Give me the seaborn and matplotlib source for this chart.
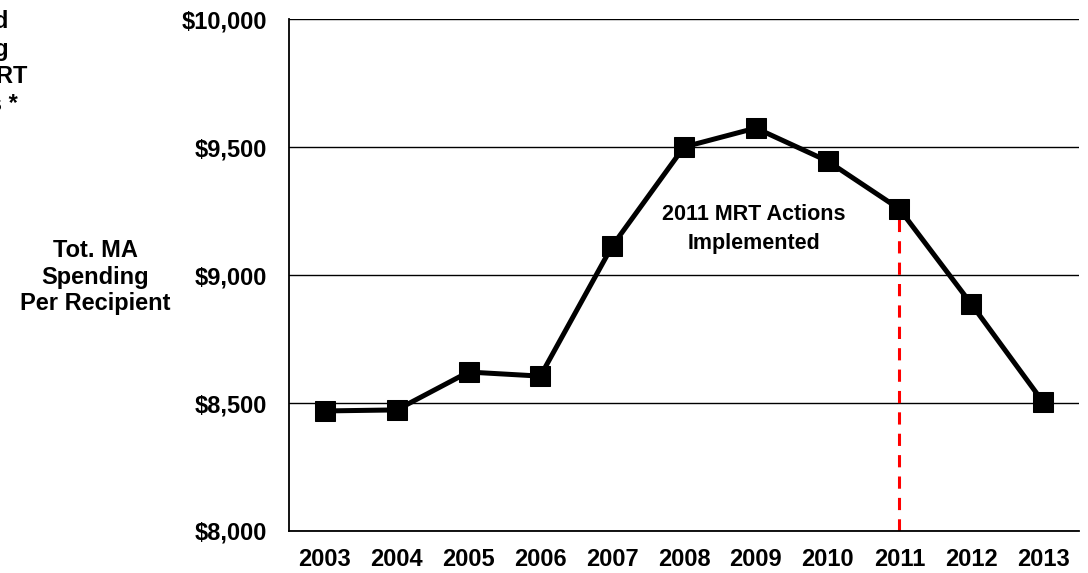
import pandas as pd
import matplotlib
matplotlib.use("Agg")
import matplotlib.pyplot as plt
import seaborn as sns

# values
years = ["2003", "2004", "2005", "2006", "2007", "2008",
         "2009", "2010", "2011", "2012", "2013"]
spending = [8469, 8473, 8621, 8605, 9113, 9500, 9574, 9445, 9258, 8887, 8504]
yticks = [8000, 8500, 9000, 9500, 10000]
mrt_year = "2011"

df = pd.DataFrame({"year": years, "spending": spending})

sns.set_style("white")
plt.rcParams['font.family'] = ['Liberation Sans', 'DejaVu Sans']
plt.rcParams['font.weight'] = 'bold'
plt.rcParams['text.color'] = 'black'
plt.rcParams['axes.labelcolor'] = 'black'
plt.rcParams['xtick.color'] = 'black'
plt.rcParams['ytick.color'] = 'black'

fig = plt.figure(figsize=(10.88, 5.73), dpi=100)
ax = fig.add_axes([0.2656, 0.0733, 0.7261, 0.8935])

sns.lineplot(data=df, x="year", y="spending", ax=ax, color="black",
             linewidth=3.6, marker="s", markersize=14.5, markeredgecolor="black",
             sort=False, zorder=3)

# red dashed marker for 2011 actions
idx = years.index(mrt_year)
ax.plot([idx, idx], [yticks[0], spending[idx]], color="#ff0000",
        linestyle=(0, (4, 3)), linewidth=2.2, zorder=2)
ax.text(5.97, 9180, "2011 MRT Actions\nImplemented", ha="center", va="center",
        fontsize=15.5, fontweight="bold", linespacing=1.5)

ax.set_xlim(-0.5, len(years) - 0.5)
ax.set_ylim(yticks[0], yticks[-1])
ax.set_yticks(yticks)
ax.set_yticklabels([f"${v:,}" for v in yticks])
ax.yaxis.grid(True, color="black", linewidth=1)
ax.xaxis.grid(False)
ax.tick_params(axis="both", length=0, labelsize=17)
ax.tick_params(axis="y", pad=16)
ax.tick_params(axis="x", pad=12)
for lbl in ax.get_xticklabels() + ax.get_yticklabels():
    lbl.set_fontweight("bold")

for side in ["top", "right"]:
    ax.spines[side].set_visible(False)
for side in ["left", "bottom"]:
    ax.spines[side].set_color("black")
    ax.spines[side].set_linewidth(1.3)

ax.set_xlabel("")
ax.set_ylabel("Tot. MA\nSpending\nPer Recipient", rotation=0, fontsize=17,
              fontweight="bold", ha="center", va="center", linespacing=1.22)
ax.yaxis.set_label_coords((95 - 289) / 791, (531 - 277) / 512)

# leftover label from the neighbouring chart, mostly off the page
fig.text(-45 / 1088, 1 - 63 / 573, "Projected\nSpending\nWithout MRT\nInitiatives *",
         ha="center", va="center", fontsize=17, fontweight="bold",
         linespacing=1.27)

fig.savefig("out.png", dpi=100)
